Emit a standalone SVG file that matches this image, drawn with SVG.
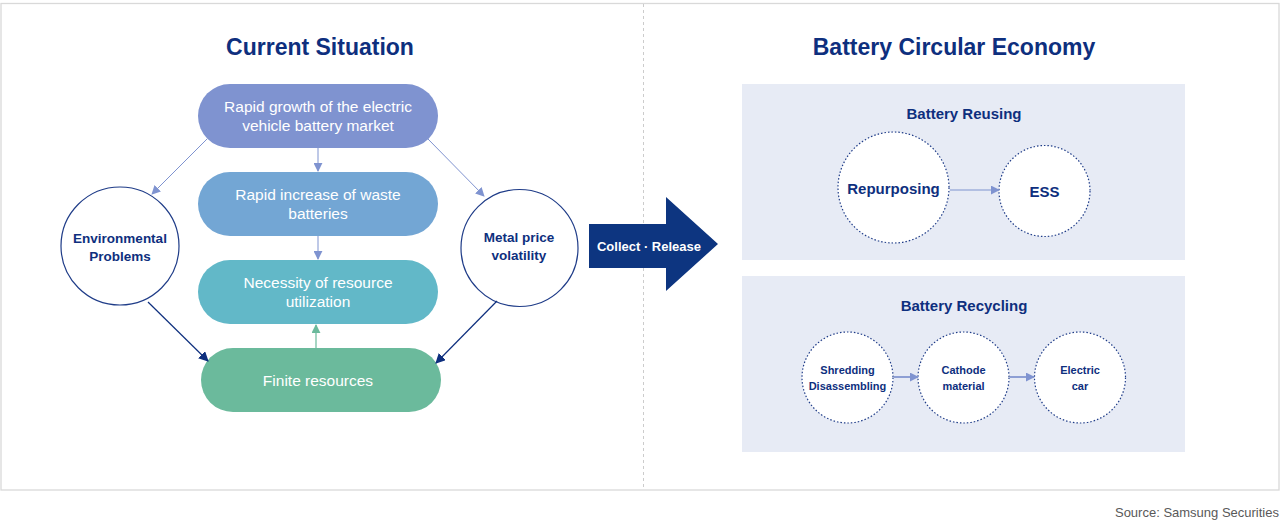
<svg xmlns="http://www.w3.org/2000/svg" width="1281" height="522" viewBox="0 0 1281 522">
<style>
text{font-family:"Liberation Sans",Arial,sans-serif}
.h1{font-size:23px;font-weight:bold;fill:#0e2f7e;text-anchor:middle}
.pill{font-size:15.5px;fill:#ffffff;text-anchor:middle}
.cl{font-size:13.5px;font-weight:bold;fill:#0e2f7e;text-anchor:middle}
.h2{font-size:15px;font-weight:bold;fill:#0e2f7e;text-anchor:middle}
.rc{font-size:11px;font-weight:bold;fill:#0e2f7e;text-anchor:middle}
.dc{fill:#ffffff;stroke:#1f3c88;stroke-width:1.2;stroke-dasharray:1.5 2}
</style>
<defs>
<marker id="al" viewBox="0 0 10 10" refX="9" refY="5" markerWidth="9" markerHeight="9" markerUnits="userSpaceOnUse" orient="auto"><path d="M0,0L10,5L0,10z" fill="#7f93d0"/></marker>
<marker id="an" viewBox="0 0 10 10" refX="9" refY="5" markerWidth="10" markerHeight="10" markerUnits="userSpaceOnUse" orient="auto"><path d="M0,0L10,5L0,10z" fill="#0e2f7e"/></marker>
<marker id="ag" viewBox="0 0 10 10" refX="9" refY="5" markerWidth="9" markerHeight="9" markerUnits="userSpaceOnUse" orient="auto"><path d="M0,0L10,5L0,10z" fill="#6bba9c"/></marker>
</defs>
<rect x="0" y="0" width="1281" height="522" fill="#ffffff"/>
<rect x="1" y="3.5" width="1278" height="486.5" fill="none" stroke="#d9d9d9" stroke-width="1.3"/>
<line x1="643.5" y1="4" x2="643.5" y2="490" stroke="#cccccc" stroke-width="1" stroke-dasharray="3 3"/>
<text class="h1" x="320" y="55">Current Situation</text>
<text class="h1" x="954" y="55">Battery Circular Economy</text>

<g id="node-growth">
<rect x="198" y="84" width="240" height="64" rx="32" fill="#7f93d0"/>
<text class="pill" x="318" y="112">Rapid growth of the electric</text>
<text class="pill" x="318" y="131">vehicle battery market</text>
</g>
<g id="node-waste">
<rect x="198" y="172" width="240" height="64" rx="32" fill="#73a6d4"/>
<text class="pill" x="318" y="200">Rapid increase of waste</text>
<text class="pill" x="318" y="219">batteries</text>
</g>
<g id="node-necessity">
<rect x="198" y="260" width="240" height="64" rx="32" fill="#62b8c8"/>
<text class="pill" x="318" y="288">Necessity of resource</text>
<text class="pill" x="318" y="307">utilization</text>
</g>
<g id="node-finite">
<rect x="201" y="348" width="240" height="64" rx="32" fill="#6bba9c"/>
<text class="pill" x="318" y="386">Finite resources</text>
</g>
<g id="node-env">
<circle cx="120" cy="246" r="59" fill="#ffffff" stroke="#1f3c88" stroke-width="1.2"/>
<text class="cl" x="120" y="243">Environmental</text>
<text class="cl" x="120" y="261">Problems</text>
</g>
<g id="node-metal">
<circle cx="519.5" cy="248" r="58.5" fill="#ffffff" stroke="#1f3c88" stroke-width="1.2"/>
<text class="cl" x="519" y="242">Metal price</text>
<text class="cl" x="519" y="260">volatility</text>
</g>
<g id="node-collect">
<path d="M589,224H666V197L718,244L666,291V268H589Z" fill="#0d3580"/>
<text x="649" y="251" font-size="13" font-weight="bold" fill="#ffffff" text-anchor="middle">Collect · Release</text>
</g>

<g id="node-reusing">
<rect x="742" y="84" width="443" height="176" fill="#e7ebf5"/>
<text class="h2" x="964" y="119">Battery Reusing</text>
</g>
<g id="node-repurposing">
<circle class="dc" cx="893.5" cy="187.5" r="55.5"/>
<text class="h2" x="893.5" y="194">Repurposing</text>
</g>
<g id="node-ess">
<circle class="dc" cx="1044.5" cy="191" r="45.5"/>
<text class="h2" x="1044.5" y="197">ESS</text>
</g>

<g id="node-recycling">
<rect x="742" y="276" width="443" height="176" fill="#e7ebf5"/>
<text class="h2" x="964" y="311">Battery Recycling</text>
</g>
<g id="node-shredding">
<circle class="dc" cx="847.5" cy="377.5" r="45.5"/>
<text class="rc" x="847.5" y="374">Shredding</text>
<text class="rc" x="847.5" y="390">Disassembling</text>
</g>
<g id="node-cathode">
<circle class="dc" cx="963.5" cy="377.5" r="45.5"/>
<text class="rc" x="963.5" y="374">Cathode</text>
<text class="rc" x="963.5" y="390">material</text>
</g>
<g id="node-car">
<circle class="dc" cx="1080" cy="377.5" r="45.5"/>
<text class="rc" x="1080" y="374">Electric</text>
<text class="rc" x="1080" y="390">car</text>
</g>

<g id="connectors" fill="none">
<line x1="207" y1="139" x2="152" y2="194" stroke="#7f93d0" stroke-width="1" marker-end="url(#al)"/>
<line x1="428" y1="139" x2="484" y2="196" stroke="#7f93d0" stroke-width="1" marker-end="url(#al)"/>
<line x1="318" y1="148" x2="318" y2="171" stroke="#7f93d0" stroke-width="1" marker-end="url(#al)"/>
<line x1="318" y1="236" x2="318" y2="259" stroke="#7f93d0" stroke-width="1" marker-end="url(#al)"/>
<line x1="316" y1="348" x2="316" y2="325" stroke="#6bba9c" stroke-width="1.2" marker-end="url(#ag)"/>
<line x1="148" y1="302" x2="208" y2="361" stroke="#0e2f7e" stroke-width="1.2" marker-end="url(#an)"/>
<line x1="497" y1="301" x2="436" y2="363" stroke="#0e2f7e" stroke-width="1.2" marker-end="url(#an)"/>
<line x1="950" y1="190" x2="999" y2="190" stroke="#7f93d0" stroke-width="1.2" marker-end="url(#al)"/>
<line x1="894" y1="377" x2="918" y2="377" stroke="#8e9fd4" stroke-width="2" marker-end="url(#al)"/>
<line x1="1010" y1="377" x2="1034" y2="377" stroke="#8e9fd4" stroke-width="2" marker-end="url(#al)"/>
</g>

<text x="1279" y="517" font-size="13" fill="#595959" text-anchor="end">Source: Samsung Securities</text>
</svg>
